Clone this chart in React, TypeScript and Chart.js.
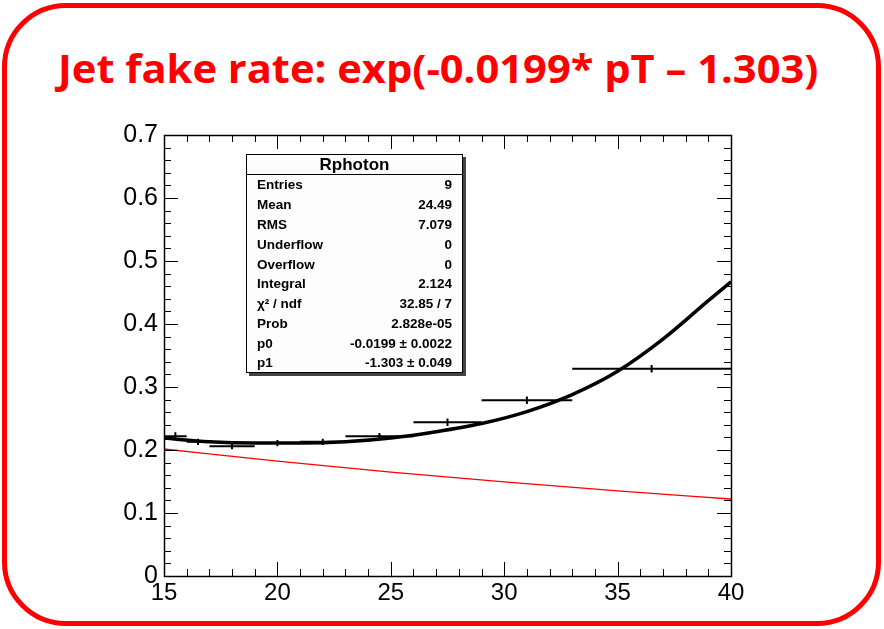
import React, { useEffect, useLayoutEffect, useRef, useState } from 'react';
import { Chart, registerables } from 'chart.js';

Chart.register(...registerables);

const TITLE = 'Jet fake rate: exp(-0.0199* pT \u2013 1.303)';

// Histogram bins in pT and the measured fake rate per bin
const binLow = [15, 16, 17, 19, 21, 23, 26, 29, 33];
const binHigh = [16, 17, 19, 21, 23, 26, 29, 33, 40];
const rate = [0.222, 0.213, 0.206, 0.211, 0.213, 0.222, 0.244, 0.279, 0.329];
const rateErr = [0.006, 0.005, 0.005, 0.005, 0.005, 0.005, 0.006, 0.006, 0.006];

// Fitted curve drawn over the histogram
const fitPt = [15, 17, 19, 21, 23, 25, 27, 29, 31, 33, 35, 37, 39, 40];
const fitVal = [0.219, 0.213, 0.211, 0.211, 0.213, 0.219, 0.229, 0.242, 0.261, 0.288, 0.325, 0.376, 0.437, 0.467];

// exp(p0*pT + p1) parametrisation
const paramPt = [15, 20, 25, 30, 35, 40];
const paramVal = [0.2016, 0.1824, 0.165, 0.1493, 0.1351, 0.1222];

// Axis labels
const xTicks = [15, 20, 25, 30, 35, 40];
const yTicks = [0, 0.1, 0.2, 0.3, 0.4, 0.5, 0.6, 0.7];

// Statistics box
const statsTitle = 'Rphoton';
const statsLabels = ['Entries', 'Mean', 'RMS', 'Underflow', 'Overflow', 'Integral', '\u03c7\u00b2 / ndf', 'Prob', 'p0', 'p1'];
const statsValues = ['9', '24.49', '7.079', '0', '0', '2.124', '32.85 / 7', '2.828e-05', '-0.0199 \u00b1 0.0022', '-1.303 \u00b1 0.049'];
const statsRowTop = [30, 50, 70, 90, 110, 129, 149, 169, 189, 208];

const AXIS_FONT = "'Liberation Sans', Arial, Helvetica, sans-serif";

// ROOT-style histogram markers, frame and inward ticks
const rootFrame = {
  id: 'rootFrame',
  beforeDatasetsDraw(chart: any) {
    const { ctx, scales } = chart;
    const x = scales.x;
    const y = scales.y;
    ctx.save();
    ctx.strokeStyle = '#000';
    ctx.lineWidth = 2;
    for (let i = 0; i < rate.length; i++) {
      const yp = y.getPixelForValue(rate[i]);
      const x0 = x.getPixelForValue(binLow[i]);
      const x1 = x.getPixelForValue(binHigh[i]);
      const xc = x.getPixelForValue((binLow[i] + binHigh[i]) / 2);
      ctx.beginPath();
      ctx.moveTo(x0, yp);
      ctx.lineTo(x1, yp);
      ctx.moveTo(xc, y.getPixelForValue(rate[i] - rateErr[i]));
      ctx.lineTo(xc, y.getPixelForValue(rate[i] + rateErr[i]));
      ctx.stroke();
    }
    ctx.restore();
  },
  afterDatasetsDraw(chart: any) {
    const { ctx, scales, chartArea } = chart;
    const x = scales.x;
    const y = scales.y;
    const { left, right, top, bottom } = chartArea;
    ctx.save();
    ctx.strokeStyle = '#000';
    ctx.lineWidth = 1;
    ctx.beginPath();
    for (let v = 15; v <= 40; v++) {
      const px = Math.round(x.getPixelForValue(v)) + 0.5;
      const len = v % 5 === 0 ? 14 : 7;
      ctx.moveTo(px, bottom);
      ctx.lineTo(px, bottom - len);
      ctx.moveTo(px, top);
      ctx.lineTo(px, top + len);
    }
    for (let k = 0; k <= 35; k++) {
      const py = Math.round(y.getPixelForValue(k * 0.02)) + 0.5;
      const len = k % 5 === 0 ? 14 : 7;
      ctx.moveTo(left, py);
      ctx.lineTo(left + len, py);
      ctx.moveTo(right, py);
      ctx.lineTo(right - len, py);
    }
    ctx.stroke();
    ctx.lineWidth = 1.5;
    ctx.strokeRect(Math.round(left) + 0.5, Math.round(top) + 0.5, Math.round(right - left), Math.round(bottom - top));
    ctx.restore();
  },
};

function PlotCanvas() {
  const ref = useRef<HTMLCanvasElement | null>(null);
  useEffect(() => {
    if (!ref.current) return;
    const chart = new Chart(ref.current, {
      type: 'line',
      data: {
        datasets: [
          {
            label: 'param',
            data: paramPt.map((p, i) => ({ x: p, y: paramVal[i] })),
            borderColor: '#ff0000',
            borderWidth: 1.3,
            pointRadius: 0,
            cubicInterpolationMode: 'monotone',
            fill: false,
          },
          {
            label: 'fit',
            data: fitPt.map((p, i) => ({ x: p, y: fitVal[i] })),
            borderColor: '#000000',
            borderWidth: 3.5,
            pointRadius: 0,
            cubicInterpolationMode: 'monotone',
            fill: false,
          },
        ],
      },
      options: {
        responsive: false,
        animation: false,
        devicePixelRatio: 1,
        layout: { padding: { top: 135, right: 153, left: 0, bottom: 0 } },
        plugins: { legend: { display: false }, tooltip: { enabled: false }, title: { display: false } },
        scales: {
          x: {
            type: 'linear',
            min: 15,
            max: 40,
            grid: { display: false, drawTicks: false },
            border: { display: false },
            afterBuildTicks: (s: any) => {
              s.ticks = xTicks.map((v) => ({ value: v }));
            },
            afterFit: (s: any) => {
              s.height = 53;
            },
            ticks: {
              font: { family: AXIS_FONT, size: 24 },
              color: '#000',
              padding: 3,
              maxRotation: 0,
              autoSkip: false,
              callback: (v: any) => String(v),
            },
          },
          y: {
            type: 'linear',
            min: 0,
            max: 0.7,
            grid: { display: false, drawTicks: false },
            border: { display: false },
            afterBuildTicks: (s: any) => {
              s.ticks = yTicks.map((v) => ({ value: v }));
            },
            afterFit: (s: any) => {
              s.width = 164;
            },
            ticks: {
              font: { family: AXIS_FONT, size: 25 },
              color: '#000',
              padding: 6,
              autoSkip: false,
              callback: (v: any) => (Number(v) === 0 ? '0' : Number(v).toFixed(1)),
            },
          },
        },
      },
      plugins: [rootFrame],
    } as any);
    return () => chart.destroy();
  }, []);
  return (
    <canvas
      ref={ref}
      width={884}
      height={629}
      style={{ position: 'absolute', left: 0, top: 0, width: 884, height: 629 }}
    />
  );
}

function Title() {
  const ref = useRef<HTMLSpanElement | null>(null);
  const [scale, setScale] = useState(1);
  useLayoutEffect(() => {
    if (ref.current) {
      const w = ref.current.offsetWidth;
      if (w > 0) setScale(760 / w);
    }
  }, []);
  return (
    <div style={{ position: 'absolute', left: 0, top: 40, width: 876, textAlign: 'center', whiteSpace: 'nowrap' }}>
      <span
        ref={ref}
        style={{
          display: 'inline-block',
          fontFamily: "'Open Sans', 'Noto Sans', sans-serif",
          fontWeight: 700,
          fontSize: 40,
          lineHeight: 'normal',
          color: '#ff0000',
          transform: `scaleX(${scale})`,
          transformOrigin: 'center',
        }}
      >
        {TITLE}
      </span>
    </div>
  );
}

function StatsBox() {
  return (
    <div
      style={{
        position: 'absolute',
        left: 246,
        top: 154,
        width: 217,
        height: 219,
        boxSizing: 'border-box',
        border: '1px solid #000',
        background: '#fdfdfd',
        boxShadow: '3px 3px 0 #444',
        fontFamily: AXIS_FONT,
        fontWeight: 700,
        color: '#000',
      }}
    >
      <div
        style={{
          position: 'absolute',
          left: 0,
          top: 0,
          width: '100%',
          height: 19,
          borderBottom: '1px solid #000',
          textAlign: 'center',
          fontSize: 17,
          lineHeight: '19px',
        }}
      >
        {statsTitle}
      </div>
      {statsLabels.map((lab, i) => (
        <div
          key={lab}
          style={{ position: 'absolute', left: 10, right: 10, top: statsRowTop[i] - 9, height: 18, lineHeight: '18px', fontSize: 13.5 }}
        >
          <span style={{ position: 'absolute', left: 0 }}>{lab}</span>
          <span style={{ position: 'absolute', right: 0 }}>{statsValues[i]}</span>
        </div>
      ))}
    </div>
  );
}

export default function App() {
  return (
    <div style={{ position: 'fixed', left: 0, top: 0, width: 884, height: 629, background: '#fff', overflow: 'hidden' }}>
      <div
        style={{
          position: 'absolute',
          left: 2,
          top: 3,
          width: 879,
          height: 623,
          boxSizing: 'border-box',
          border: '5px solid #ff0000',
          borderRadius: 64,
        }}
      />
      <Title />
      <PlotCanvas />
      <StatsBox />
    </div>
  );
}
